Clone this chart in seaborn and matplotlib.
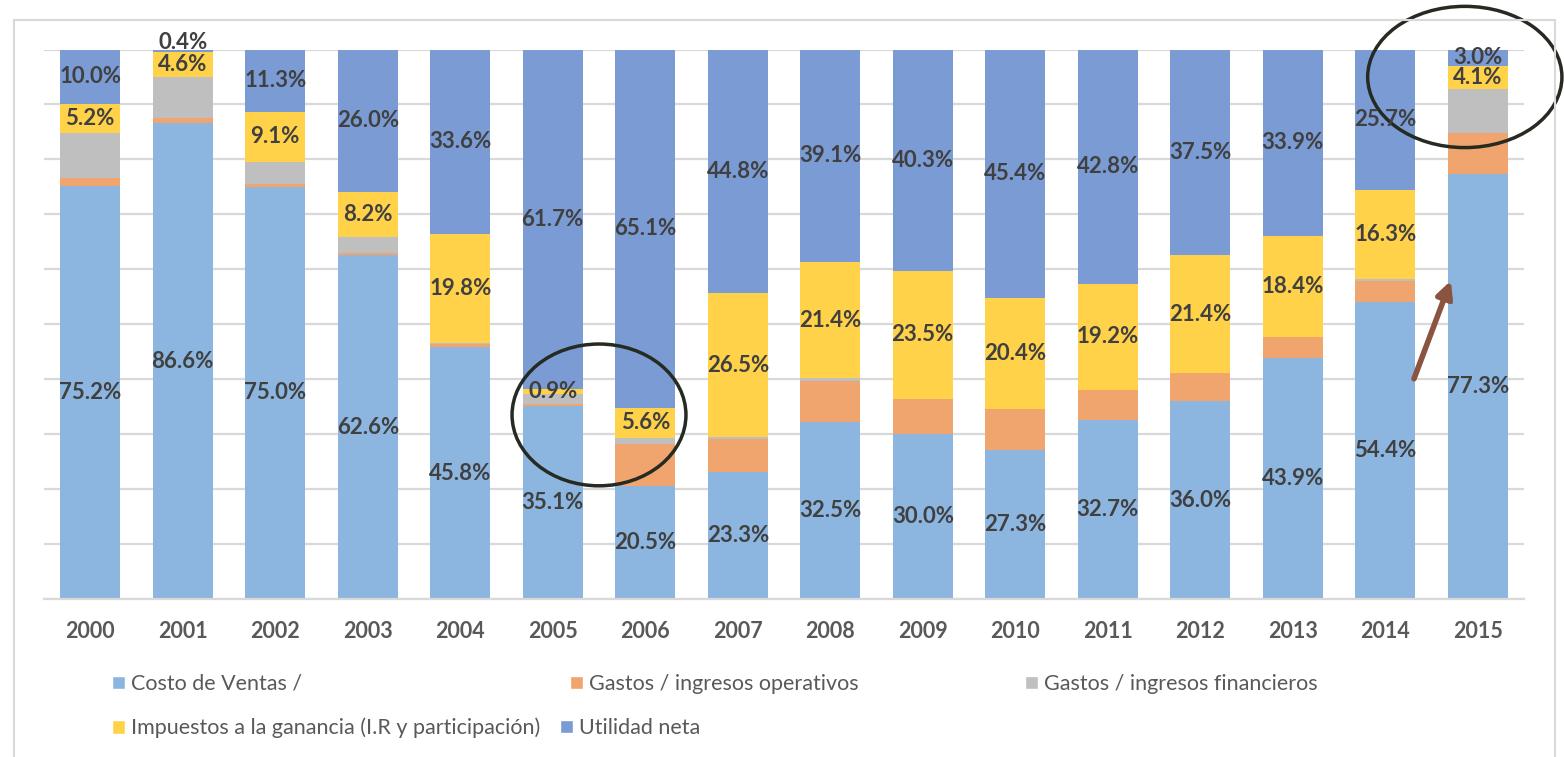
import numpy as np
import pandas as pd
import matplotlib
matplotlib.use("Agg")
import matplotlib.pyplot as plt
import matplotlib.patheffects as pe
from matplotlib.patches import Ellipse, Rectangle, FancyArrowPatch, Patch
import seaborn as sns

sns.set_style("white")
plt.rcParams["font.family"] = ["Lato", "DejaVu Sans"]

# Data (percent of sales)
years = ["2000", "2001", "2002", "2003", "2004", "2005", "2006", "2007",
         "2008", "2009", "2010", "2011", "2012", "2013", "2014", "2015"]
costo_ventas = [75.2, 86.6, 75.0, 62.6, 45.8, 35.1, 20.5, 23.3, 32.5, 30.0, 27.3, 32.7, 36.0, 43.9, 54.4, 77.3]
gastos_operativos = [1.5, 0.9, 0.5, 0.4, 0.6, 0.4, 7.6, 6.1, 7.7, 6.4, 7.4, 5.5, 5.2, 3.8, 3.9, 7.5]
gastos_financieros = [8.1, 7.5, 4.1, 2.8, 0.2, 1.8, 1.1, 0.4, 0.4, 0.0, 0.0, 0.0, 0.0, 0.0, 0.4, 8.1]
impuestos = [5.2, 4.6, 9.1, 8.2, 19.8, 0.9, 5.6, 26.5, 21.4, 23.5, 20.4, 19.2, 21.4, 18.4, 16.3, 4.1]
utilidad_neta = [10.0, 0.4, 11.3, 26.0, 33.6, 61.7, 65.1, 44.8, 39.1, 40.3, 45.4, 42.8, 37.5, 33.9, 25.7, 3.0]

series_names = ["Costo de Ventas /",
                "Gastos / ingresos operativos",
                "Gastos / ingresos financieros",
                "Impuestos a la ganancia (I.R y participación)",
                "Utilidad neta"]
colors = ["#8CB6E0", "#F0A46E", "#BFBFBF", "#FFD24A", "#7A9BD4"]
labelled = [True, False, False, True, True]

df = pd.DataFrame(dict(zip(series_names, [costo_ventas, gastos_operativos, gastos_financieros,
                                          impuestos, utilidad_neta])), index=years)
# 100% stacked, like the spreadsheet chart
share = df.div(df.sum(axis=1), axis=0) * 100

W, H = 1564, 757
fig = plt.figure(figsize=(W / 100, H / 100), dpi=100)
ax = fig.add_axes([44 / W, 1 - 599 / H, 1480 / W, 549.5 / H])

bottom = np.zeros(len(years))
for i, (name, col, lab) in enumerate(zip(series_names, colors, labelled)):
    sns.barplot(x=years, y=share[name].values, bottom=bottom, color=col, width=0.65,
                saturation=1, errorbar=None, linewidth=0, ax=ax)
    if lab:
        texts = ax.bar_label(ax.containers[-1], labels=[f"{v:.1f}%" for v in df[name]],
                             label_type="center", fontsize=16, fontweight="bold", color="#404040")
        # a tiny top segment gets its label pushed up above the bar
        if i == len(series_names) - 1:
            for t, v in zip(texts, share[name].values):
                if v < 1:
                    t.xyann = (0, 6)
    bottom = bottom + share[name].values

ax.set_xlim(-0.5, len(years) - 0.5)
ax.set_ylim(0, 100)
ax.set_yticks(np.arange(0, 101, 10))
ax.set_yticklabels([])
ax.yaxis.grid(True, color="#D9D9D9", lw=1.6)
ax.set_axisbelow(True)
for s in ["top", "left", "right"]:
    ax.spines[s].set_visible(False)
ax.spines["bottom"].set_color("#D9D9D9")
ax.spines["bottom"].set_linewidth(1.6)
ax.tick_params(axis="both", length=0)
ax.tick_params(axis="x", pad=16, labelsize=15.5, labelcolor="#595959")
for t in ax.get_xticklabels():
    t.set_fontweight("bold")
ax.set_xlabel("")
ax.set_ylabel("")

# highlight marks
ax.add_patch(Ellipse((5.5, 33.5), 1.88, 25.8, fill=False, ec="#262B22", lw=2.5, clip_on=False))
ax.add_patch(Ellipse((14.86, 95.0), 2.10, 25.7, fill=False, ec="#262B22", lw=2.5, clip_on=False))
arrow = FancyArrowPatch((14.30, 39.6), (14.72, 58.4), arrowstyle="-|>", mutation_scale=24,
                        color="#8B5440", lw=4, clip_on=False,
                        path_effects=[pe.withSimplePatchShadow(offset=(2, -2), alpha=0.3)])
ax.add_patch(arrow)

# chart frame
fig.patches.append(Rectangle((14 / W, -0.05), 1541 / W, 1 - 20 / H + 0.05, transform=fig.transFigure,
                             fill=False, ec="#D9D9D9", lw=1.5))

# legend, laid out like the spreadsheet
legend_pos = [(112, 684), (570, 684), (1025, 684), (112, 728), (560, 728)]
for name, col, (px, py) in zip(series_names, colors, legend_pos):
    fig.legend(handles=[Patch(facecolor=col)], labels=[name], loc="center left",
               bbox_to_anchor=(px / W, 1 - py / H), frameon=False, borderpad=0,
               borderaxespad=0, handlelength=0.6, handleheight=0.6, handletextpad=0.3,
               fontsize=15.5, labelcolor="#595959")

fig.savefig("out.png", dpi=100)
